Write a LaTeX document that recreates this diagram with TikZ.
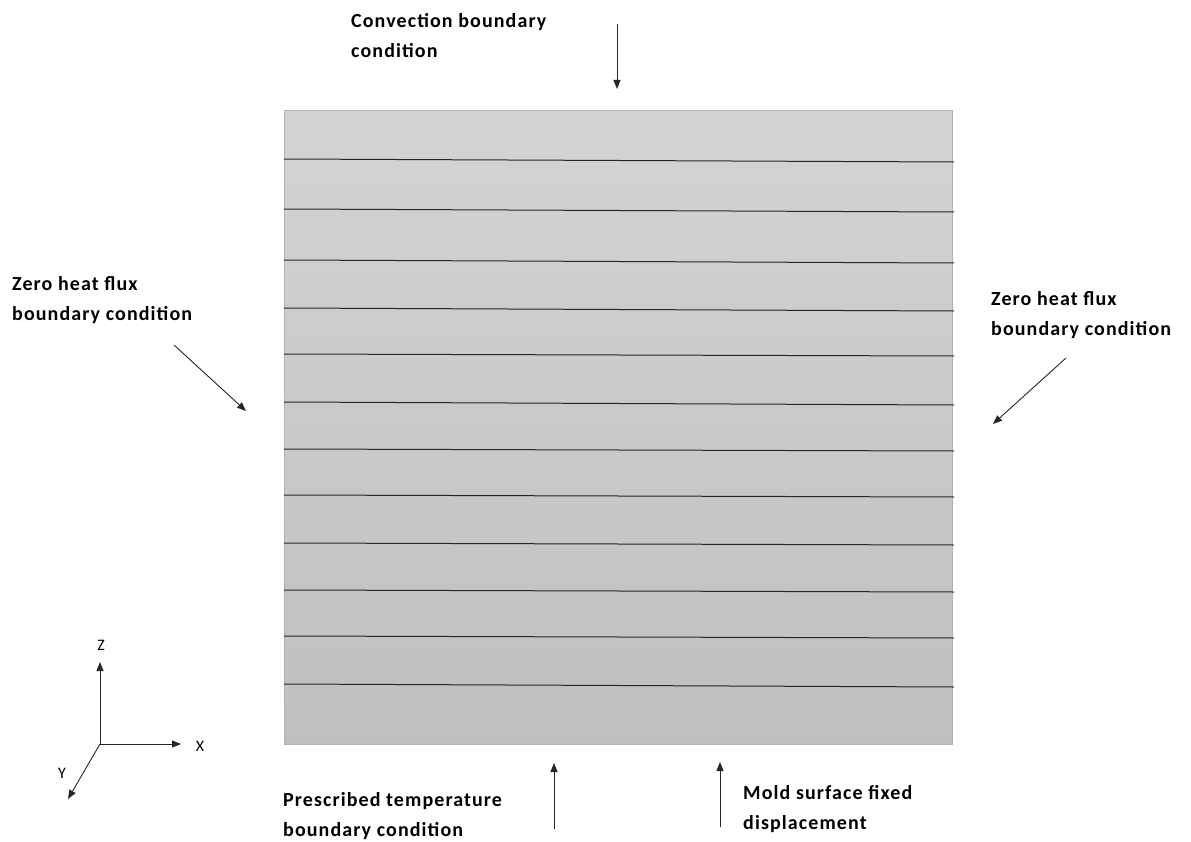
\documentclass[tikz,border=0pt]{standalone}
\usepackage{fontspec}
\setmainfont{Carlito}
\newfontfamily\lblfont[LetterSpace=5.5]{Carlito}
\usetikzlibrary{arrows.meta}
\begin{document}
\begin{tikzpicture}[x=1pt,y=-1pt,
  lbl/.style={font=\lblfont\fontsize{20}{30}\selectfont\bfseries, align=left, anchor=north west, inner sep=0pt},
  axlbl/.style={font=\fontsize{16}{18}\selectfont, inner sep=0pt},
  arr/.style={-{Triangle[length=9pt,width=7pt]}, line width=0.9pt, color=black!85},
  layer/.style={line width=1pt, color=black!85}]
\useasboundingbox (0,0) rectangle (1191,842);
% slab
\node[draw=black!30, line width=1pt, top color=black!17, bottom color=black!25, minimum width=668pt, minimum height=634pt, inner sep=0pt, anchor=north west] (slab) at (284,110) {};
% layer lines
\foreach \yl/\yr [count=\i] in {159/162,209/212,260/263,308/311,354/356,402/405,449/451,495/497,543/545,590/592,636/638,684/687}{
  \coordinate (l\i) at (284,\yl);
  \coordinate (r\i) at (954,\yr);
  \draw[layer] (l\i) -- (r\i);
}
% labels
\node[lbl] (conv) at (351,13) {Convection boundary\\condition};
\node[lbl] (zl) at (12,276) {Zero heat flux\\boundary condition};
\node[lbl] (zr) at (991,291) {Zero heat flux\\boundary condition};
\node[lbl] (pres) at (283,792) {Prescribed temperature\\boundary condition};
\node[lbl] (mold) at (743,785) {Mold surface fixed\\displacement};
% arrows
\coordinate (ct0) at (617,24); \coordinate (ct1) at (617,89);
\draw[arr] (ct0) -- (ct1);
\coordinate (zl0) at (174,345); \coordinate (zl1) at (246,411);
\draw[arr] (zl0) -- (zl1);
\coordinate (zr0) at (1066,358); \coordinate (zr1) at (993,424);
\draw[arr] (zr0) -- (zr1);
\coordinate (p0) at (554,829); \coordinate (p1) at (554,763);
\draw[arr] (p0) -- (p1);
\coordinate (m0) at (720,827); \coordinate (m1) at (720,762);
\draw[arr] (m0) -- (m1);
% axes
\coordinate (o) at (100,744);
\node[axlbl] (zax) at (101,645) {Z};
\node[axlbl] (xax) at (200,746) {X};
\node[axlbl] (yax) at (62,773) {Y};
\coordinate (zt) at (100,662);
\coordinate (xt) at (181,744);
\coordinate (yt) at (68,799);
\draw[arr] (o) -- (zt);
\draw[arr] (o) -- (xt);
\draw[arr] (o) -- (yt);
\end{tikzpicture}
\end{document}
